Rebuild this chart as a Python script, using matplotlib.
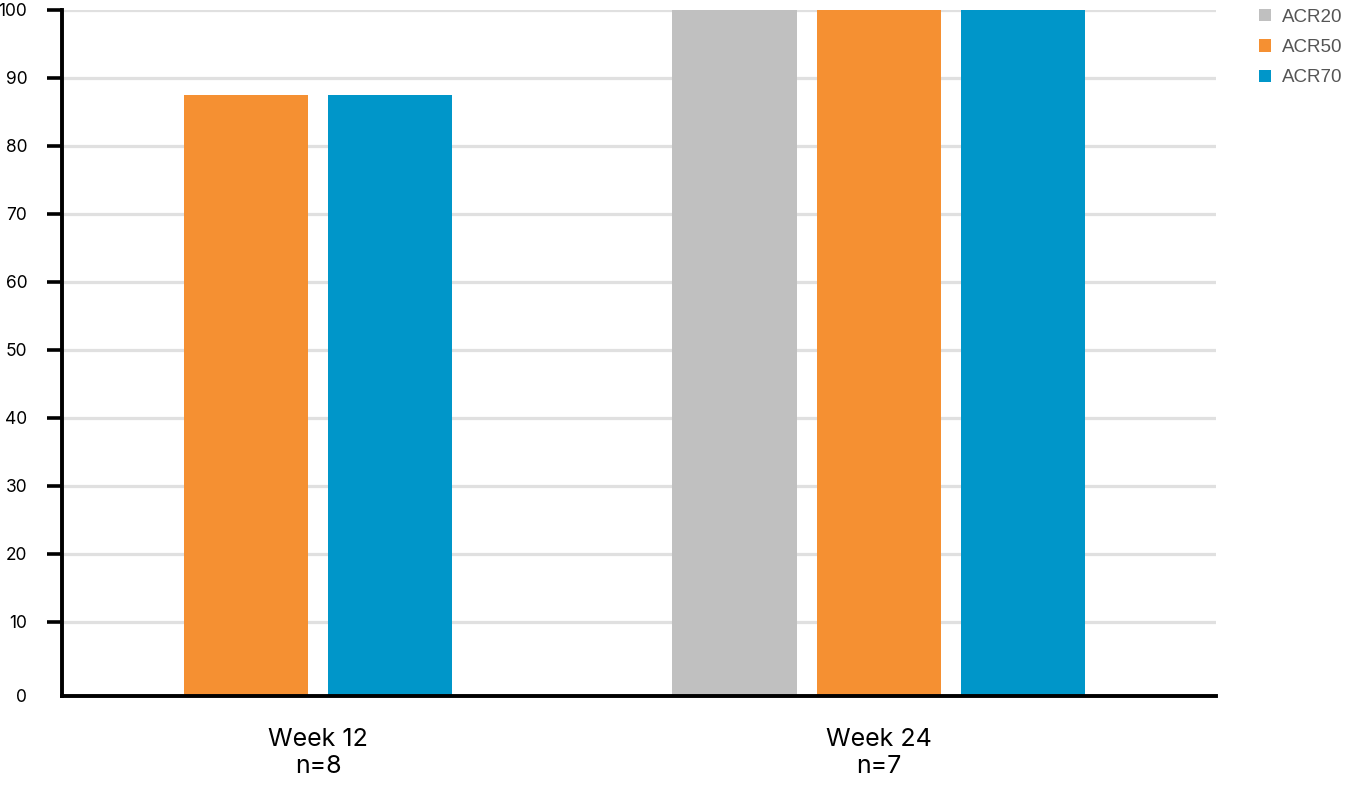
import numpy as np
import matplotlib
matplotlib.use("Agg")
import matplotlib.pyplot as plt
from matplotlib.patches import Patch

# data
weeks = ["Week 12\nn=8", "Week 24\nn=7"]
series = ["ACR20", "ACR50", "ACR70"]
acr20 = [np.nan, 100]   # no ACR20 bar at week 12
acr50 = [87.5, 100]
acr70 = [87.5, 100]
colors = ["#c0c0c0", "#f59032", "#0096c9"]
yticks = [10, 20, 30, 40, 50, 60, 70, 80, 90, 100]

plt.rcParams['font.family'] = ['Inter', 'DejaVu Sans']

W, H = 1348, 790
fig = plt.figure(figsize=(W / 100, H / 100), dpi=100)
ax = fig.add_axes([62 / W, (H - 696) / H, (1216 - 62) / W, (696 - 10) / H])

base = -0.9  # the bars and the "0" label sit on the axis line
values = np.array([acr20, acr50, acr70])
width = 0.2214
step = 0.2571
for gi in range(len(weeks)):
    present = [si for si in range(len(series)) if not np.isnan(values[si, gi])]
    n = len(present)
    for k, si in enumerate(present):
        off = (k - (n - 1) / 2) * step
        ax.bar(gi + off, values[si, gi] - base, bottom=base, width=width,
               color=colors[si], zorder=2)

ax.set_xlim(-0.457, 1.602)
ax.set_ylim(base, 100)
ax.set_yticks([base] + yticks)
ax.set_yticklabels(["0"] + [str(t) for t in yticks], fontsize=12.5)
ax.set_xticks(range(len(weeks)))
ax.set_xticklabels(weeks, fontsize=18, linespacing=1.25)
ax.tick_params(axis='x', length=0, pad=23)
ax.tick_params(axis='y', length=11, width=2.6, pad=14)
ax.yaxis.get_major_ticks()[0].tick1line.set_visible(False)

for t in yticks:
    ax.axhline(t, color="#e0e0e0", lw=2.3, zorder=1)

for s in ["top", "right"]:
    ax.spines[s].set_visible(False)
for s in ["left", "bottom"]:
    ax.spines[s].set_linewidth(2.8)
    ax.spines[s].set_zorder(3)

handles = [Patch(facecolor=c, edgecolor="none") for c in colors]
leg = fig.legend(handles, series, loc="upper left", bbox_to_anchor=(1251 / W, 1 - 1 / H),
                 frameon=False, prop={'family': 'Liberation Sans', 'size': 13.5},
                 handlelength=0.65, handleheight=0.65,
                 handletextpad=0.6, labelspacing=0.72, borderaxespad=0)
for t in leg.get_texts():
    t.set_color("#555555")

fig.savefig("out.png", dpi=100)
